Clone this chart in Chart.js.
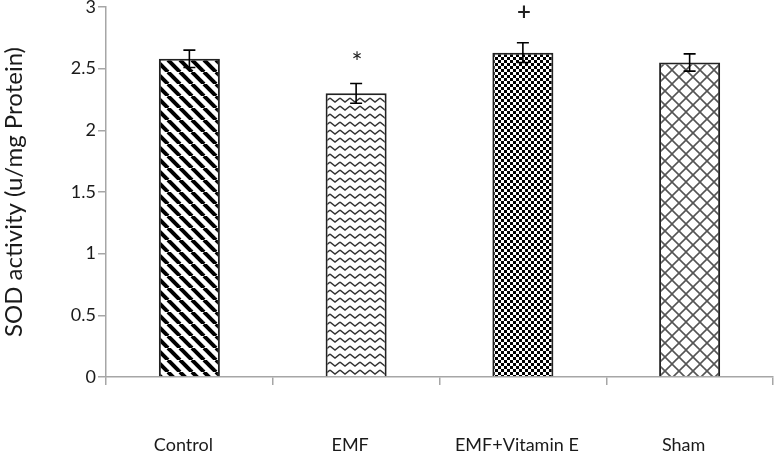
<!DOCTYPE html>
<html>
<head>
<meta charset="utf-8">
<script src="https://cdn.jsdelivr.net/npm/chart.js@4"></script>
<style>
    body { margin: 0; background: #fff; }
    #wrap { width: 774px; height: 455px; }
</style>
</head>
<body>
<div id="wrap"><canvas id="myChart" width="774" height="455"></canvas></div>
<script>
const groups = ['Control', 'EMF', 'EMF+Vitamin E', 'Sham'];
const sodValues = [2.58, 2.30, 2.63, 2.55];
const sodErrors = [0.07, 0.08, 0.08, 0.07];
const marks = ['', '*', '+', ''];

function makePattern(w, h, draw) {
    const c = document.createElement('canvas');
    c.width = w;
    c.height = h;
    const g = c.getContext('2d');
    g.fillStyle = '#fff';
    g.fillRect(0, 0, w, h);
    draw(g);
    return g.createPattern(c, 'repeat');
}

const ctx = document.getElementById('myChart').getContext('2d');

// diagonal stripes (Control)
const stripes = makePattern(12, 12, g => {
    g.strokeStyle = '#000';
    g.lineWidth = 4;
    for (let k = -1; k <= 1; k++) {
        g.beginPath();
        g.moveTo(k * 12, 0);
        g.lineTo(k * 12 + 12, 12);
        g.stroke();
    }
});

// zigzag waves (EMF)
const waves = makePattern(10, 8, g => {
    g.strokeStyle = '#333';
    g.lineWidth = 1.4;
    g.beginPath();
    g.moveTo(0, 2);
    g.lineTo(5, 6);
    g.lineTo(10, 2);
    g.stroke();
});

// small checkerboard (EMF+Vitamin E)
const checks = makePattern(6, 6, g => {
    g.fillStyle = '#000';
    g.fillRect(0, 0, 3, 3);
    g.fillRect(3, 3, 3, 3);
});

// diagonal crosshatch (Sham)
const hatch = makePattern(14, 14, g => {
    g.strokeStyle = '#555';
    g.lineWidth = 1.6;
    for (let k = -1; k <= 1; k++) {
        g.beginPath();
        g.moveTo(k * 14, 0);
        g.lineTo(k * 14 + 14, 14);
        g.stroke();
        g.beginPath();
        g.moveTo(k * 14 + 14, 0);
        g.lineTo(k * 14, 14);
        g.stroke();
    }
});

const errorBars = {
    id: 'errorBars',
    afterDatasetsDraw(chart) {
        const meta = chart.getDatasetMeta(0);
        const y = chart.scales.y;
        const c = chart.ctx;
        c.save();
        c.strokeStyle = '#000';
        c.lineWidth = 1.6;
        meta.data.forEach((bar, i) => {
            const top = y.getPixelForValue(sodValues[i] + sodErrors[i]);
            const bot = y.getPixelForValue(sodValues[i] - sodErrors[i]);
            c.beginPath();
            c.moveTo(bar.x, top);
            c.lineTo(bar.x, bot);
            c.moveTo(bar.x - 6, top);
            c.lineTo(bar.x + 6, top);
            c.moveTo(bar.x - 6, bot);
            c.lineTo(bar.x + 6, bot);
            c.stroke();
            if (marks[i]) {
                c.fillStyle = '#222';
                c.font = marks[i] === '+' ? '600 24px Lato' : '26px Lato';
                c.textAlign = 'center';
                c.textBaseline = 'middle';
                c.fillText(marks[i], bar.x + 1, top - (marks[i] === '+' ? 31 : 20));
            }
        });
        c.restore();
    }
};

new Chart(ctx, {
    type: 'bar',
    data: {
        labels: groups,
        datasets: [{
            data: sodValues,
            backgroundColor: [stripes, waves, checks, hatch],
            borderColor: '#222',
            borderWidth: 2,
            categoryPercentage: 1,
            barPercentage: 0.366
        }]
    },
    options: {
        responsive: false,
        animation: false,
        layout: { padding: { right: 1 } },
        plugins: {
            legend: { display: false },
            tooltip: { enabled: false }
        },
        scales: {
            x: {
                grid: {
                    drawOnChartArea: false,
                    color: '#a6a6a6',
                    tickLength: 8,
                    lineWidth: 1.5
                },
                border: { color: '#a6a6a6', width: 1.5 },
                ticks: {
                    color: '#1a1a1a',
                    font: { family: 'Lato', size: 18 },
                    padding: 49,
                    labelOffset: -6,
                    maxRotation: 0
                },
                afterFit: s => { s.height = 78; }
            },
            y: {
                min: 0,
                max: 3,
                ticks: {
                    stepSize: 0.5,
                    color: '#1a1a1a',
                    font: { family: 'Lato', size: 18, lineHeight: 1 },
                    padding: 2,
                    callback: v => String(v)
                },
                grid: {
                    drawOnChartArea: false,
                    color: '#a6a6a6',
                    tickLength: 8,
                    lineWidth: 1.5
                },
                border: { color: '#a6a6a6', width: 1.5 },
                title: {
                    display: true,
                    text: 'SOD activity (u/mg Protein)',
                    color: '#1a1a1a',
                    font: { family: 'Lato', size: 24 },
                    padding: { top: 0, bottom: 0 }
                },
                afterFit: s => { s.width = 106; s.paddingTop = 7; }
            }
        }
    },
    plugins: [errorBars]
});
</script>
</body>
</html>
